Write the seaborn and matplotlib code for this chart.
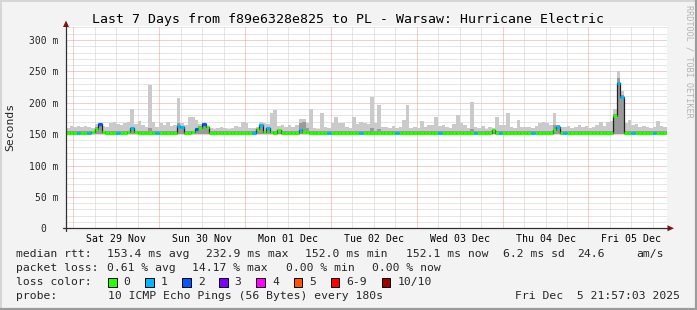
import numpy as np
import matplotlib
matplotlib.use("Agg")
import matplotlib.pyplot as plt
import seaborn as sns
from matplotlib.patches import Rectangle, Polygon
from matplotlib.lines import Line2D

# ---------------- data ----------------
title = "Last 7 Days from f89e6328e825 to PL - Warsaw: Hurricane Electric"
day_labels = ["Sat 29 Nov", "Sun 30 Nov", "Mon 01 Dec", "Tue 02 Dec",
              "Wed 03 Dec", "Thu 04 Dec", "Fri 05 Dec"]
first_midnight = 2.05          # hours after window start (Fri 28 Nov 21:57)
span_hours = 168
y_ticks = [0, 50, 100, 150, 200, 250, 300]
y_labels = ["0  ", "50 m", "100 m", "150 m", "200 m", "250 m", "300 m"]

# hourly median rtt (ms)
median = [
    152.5, 152.5, 152, 152.5, 152.5, 152, 152.5, 153, 158, 166, 153, 152.5,
    152, 152.5, 152.5, 152, 152.5, 153, 160, 153, 152.5, 152.5, 152, 152.5,
    152.5, 152.5, 152, 152.5, 152.5, 152, 152.5, 163, 161, 152.5, 152.5, 153,
    158, 160, 166, 161, 152.5, 152, 152.5, 152.5, 152, 152.5, 152.5, 152,
    152.5, 152.5, 152, 152.5, 152.5, 158, 164, 153, 159, 153, 152.5, 156,
    152.5, 152, 152.5, 152.5, 152, 156, 154, 153, 152.5, 152.5, 152, 152.5,
    152.5, 152, 152.5, 152.5, 152, 152.5, 152.5, 152, 152.5, 152.5, 152, 152.5,
    152.5, 152, 152.5, 152.5, 152, 152.5, 152.5, 152, 152.5, 152.5, 152, 152.5,
    152.5, 152, 152.5, 152.5, 152, 152.5, 152.5, 152, 152.5, 152.5, 152, 152.5,
    152.5, 152, 152.5, 152.5, 152, 152.5, 152.5, 152, 152.5, 152.5, 152, 156,
    152.5, 152, 152.5, 152.5, 152, 152.5, 152.5, 152, 152.5, 152.5, 152, 152.5,
    152.5, 152, 152.5, 152.5, 156, 161, 152.5, 152, 152.5, 152.5, 152, 152.5,
    152.5, 152, 152.5, 152.5, 152, 152.5, 152.5, 152, 152.5, 179, 232, 209,
    152.5, 152, 152.5, 152.5, 152, 152.5, 152.5, 152, 152.5, 152.5, 152, 152.1,
]
# lost pings (of 10) per hour
loss = [
    0, 0, 0, 1, 0, 0, 1, 0, 0, 2, 0, 0, 0, 0, 1, 0, 0, 0, 1, 0, 0, 0, 0, 0,
    0, 1, 0, 0, 0, 0, 0, 1, 1, 0, 0, 0, 2, 0, 2, 0, 0, 0, 0, 0, 0, 0, 0, 0,
    0, 0, 0, 0, 1, 0, 1, 0, 1, 0, 0, 0, 0, 0, 0, 0, 0, 1, 0, 0, 0, 0, 0, 0,
    0, 1, 0, 0, 0, 0, 0, 0, 0, 0, 1, 0, 0, 0, 0, 0, 0, 0, 0, 0, 1, 0, 0, 0,
    0, 0, 0, 0, 0, 0, 0, 0, 1, 0, 0, 0, 0, 0, 0, 0, 0, 0, 1, 0, 0, 0, 0, 0,
    0, 1, 0, 0, 0, 0, 0, 0, 0, 0, 1, 0, 0, 0, 0, 0, 0, 1, 0, 1, 0, 0, 0, 0,
    0, 0, 0, 0, 0, 0, 0, 0, 0, 0, 1, 1, 0, 0, 1, 0, 0, 0, 0, 0, 1, 0, 0, 0,
]
# highest ping per hour (ms) -> outer smoke
smoke_max = [
    160, 163, 161, 163, 161, 163, 162, 160, 166, 168, 163, 162,
    167, 169, 166, 164, 168, 170, 190, 166, 171, 165, 161, 228,
    170, 162, 167, 164, 170, 163, 165, 208, 167, 165, 177, 177,
    172, 166, 168, 163, 160, 158, 160, 162, 159, 158, 160, 163,
    161, 170, 168, 160, 159, 162, 170, 167, 166, 183, 188, 163,
    165, 162, 165, 161, 164, 174, 174, 168, 190, 160, 158, 183,
    162, 160, 167, 177, 168, 167, 162, 160, 178, 166, 170, 168,
    166, 209, 168, 196, 161, 162, 160, 163, 159, 161, 172, 196,
    160, 161, 159, 171, 162, 165, 164, 178, 163, 165, 162, 160,
    166, 180, 168, 165, 160, 201, 162, 160, 163, 158, 161, 160,
    178, 165, 164, 183, 162, 160, 173, 162, 161, 162, 160, 163,
    167, 170, 168, 164, 184, 165, 162, 161, 163, 160, 162, 164,
    161, 163, 160, 162, 164, 170, 163, 170, 171, 190, 250, 218,
    168, 172, 165, 166, 162, 163, 161, 160, 162, 171, 163, 161,
]
# inner (denser) smoke band top (ms)
smoke_mid = [
    155, 155, 155, 155, 155, 155, 155, 155, 162, 166, 155, 155,
    155, 155, 155, 155, 155, 155, 158, 155, 155, 155, 155, 160,
    155, 155, 155, 155, 155, 155, 155, 168, 162, 155, 155, 155,
    160, 163, 168, 160, 155, 155, 155, 155, 155, 155, 155, 155,
    155, 155, 155, 155, 155, 155, 164, 155, 160, 155, 155, 155,
    155, 155, 155, 155, 155, 168, 170, 160, 155, 155, 155, 155,
    155, 155, 155, 155, 155, 155, 155, 155, 155, 155, 155, 155,
    155, 160, 155, 158, 155, 155, 155, 155, 155, 155, 155, 155,
    155, 155, 155, 155, 155, 155, 155, 155, 155, 155, 155, 155,
    155, 155, 155, 155, 155, 158, 155, 155, 155, 155, 155, 157,
    155, 155, 155, 155, 155, 155, 155, 155, 155, 155, 155, 155,
    155, 155, 155, 155, 165, 164, 155, 155, 155, 155, 155, 155,
    155, 155, 155, 155, 155, 155, 155, 155, 155, 182, 240, 212,
    155, 155, 155, 155, 155, 155, 155, 155, 155, 155, 155, 155,
]
smoke_floor = 151

loss_labels = ["0", "1", "2", "3", "4", "5", "6-9", "10/10"]
loss_colors = ["#26ff00", "#00b8ff", "#0059ff", "#7e00ff",
               "#ff00ff", "#ff5500", "#ff0000", "#a10000"]

rtt_stats = ["153.4 ms avg", "232.9 ms max", "152.0 ms min",
             "152.1 ms now", "6.2 ms sd", "24.6", "am/s"]
loss_stats = ["0.61 % avg", "14.17 % max", "0.00 % min", "0.00 % now"]
probe_text = "10 ICMP Echo Pings (56 Bytes) every 180s"
stamp_text = "Fri Dec  5 21:57:03 2025"

# ---------------- layout / style ----------------
W, H, DPI = 697, 310, 100
MONO = ["DejaVu Sans Mono"]
BG = "#f3f3f3"

sns.set_style("white")
plt.rcParams["font.family"] = MONO
plt.rcParams["lines.scale_dashes"] = True


def fx(p):
    return p / W


def fy(p):
    return 1 - p / H


fig = plt.figure(figsize=(W / DPI, H / DPI), dpi=DPI, facecolor=BG)

PL, PR, PT, PB = 66, 667, 26, 228.3
ax = fig.add_axes([fx(PL), fy(PB), (PR - PL) / W, (PB - PT) / H])
ax.set_facecolor("white")
ax.set_xlim(0, span_hours)
ax.set_ylim(0, 322.3)
for s in ax.spines.values():
    s.set_visible(False)

# grid
dot = (0, (1, 1))
for v in range(10, 321, 10):
    major = v % 50 == 0
    ax.axhline(v, color="#ef9a9a" if major else "#cfcfcf", lw=0.72,
               ls=dot, zorder=0.5)
h = first_midnight
k = 0
while h < span_hours:
    major = k % 4 == 0
    ax.axvline(h, color="#ef9a9a" if major else "#cfcfcf", lw=0.72,
               ls=dot, zorder=0.5)
    h += 6
    k += 1

# smoke
hours = np.arange(len(median))
edges = np.append(hours, span_hours)
mx = np.append(smoke_max, smoke_max[-1])
md = np.append(smoke_mid, smoke_mid[-1])
ax.fill_between(edges, smoke_floor, mx, step="post", color="#cacaca",
                lw=0, zorder=1)
ax.fill_between(edges, smoke_floor, md, step="post", color="#9a9a9a",
                lw=0, zorder=1.2)

# median line (black step) + loss-coloured segments
med_ext = np.append(median, median[-1])
sns.lineplot(x=edges, y=med_ext, drawstyle="steps-post", color="#202020",
             lw=0.9, ax=ax, zorder=3, sort=False)
ax.hlines(median, hours, hours + 1, colors=[loss_colors[l] for l in loss],
          lw=2.3, zorder=4)

# ticks
ax.set_yticks(y_ticks)
ax.set_yticklabels(y_labels)
noons = [first_midnight + 12 + 24 * i for i in range(len(day_labels))]
ax.set_xticks(noons)
ax.set_xticklabels(day_labels)
ax.set_xticks([first_midnight + 24 * i for i in range(len(day_labels))],
              minor=True)
ax.tick_params(axis="x", which="major", length=0, pad=4.2, labelsize=7.1,
               colors="#000000")
ax.tick_params(axis="x", which="minor", length=2, width=0.7,
               direction="out", color="#ef9a9a")
ax.tick_params(axis="y", which="major", length=2, width=0.7,
               direction="out", pad=3.3, labelsize=7.0, color="#ef9a9a")
ax.set_ylabel("")

# axes with arrows
axis_col = "#303030"
arrow_col = "#8b1010"
fig.add_artist(Line2D([fx(63), fx(669)], [fy(PB), fy(PB)], color=axis_col,
                      lw=0.9))
fig.add_artist(Line2D([fx(PL), fx(PL)], [fy(231), fy(25)], color=axis_col,
                      lw=0.9))
fig.add_artist(Polygon([[fx(674), fy(PB)], [fx(667.5), fy(PB - 3)],
                        [fx(667.5), fy(PB + 3)]], closed=True,
                       color=arrow_col, lw=0))
fig.add_artist(Polygon([[fx(PL), fy(20.5)], [fx(PL - 3), fy(27)],
                        [fx(PL + 3), fy(27)]], closed=True,
                       color=arrow_col, lw=0))

# frame shading
fig.add_artist(Line2D([0, 1], [fy(0.5), fy(0.5)], color="#d6d6d6", lw=1.4))
fig.add_artist(Line2D([fx(0.5), fx(0.5)], [0, 1], color="#d6d6d6", lw=1.4))
fig.add_artist(Line2D([0, 1], [fy(309), fy(309)], color="#9c9c9c", lw=1.6))
fig.add_artist(Line2D([fx(696), fx(696)], [0, 1], color="#9c9c9c", lw=1.6))

# texts
fig.text(fx(348), fy(19), title, ha="center", va="center", fontsize=9.55,
         color="#000000")
fig.text(fx(10), fy(127), "Seconds", rotation=90, ha="center", va="center",
         fontsize=8.2)
fig.text(fx(688.5), fy(5), "RRDTOOL / TOBI OETIKER", rotation=270,
         ha="center", va="top", fontsize=6.1, color="#b4b4b4")

LF = 8.2
rows = [254, 268, 282, 296]
fig.text(fx(16), fy(rows[0]), "median rtt:", va="center", fontsize=LF)
for s, x in zip(rtt_stats, [107, 206, 305, 406, 503, 577, 636]):
    fig.text(fx(x), fy(rows[0]), s, va="center", fontsize=LF)
fig.text(fx(16), fy(rows[1]), "packet loss:", va="center", fontsize=LF)
for s, x in zip(loss_stats, [107, 192, 285.8, 371.6]):
    fig.text(fx(x), fy(rows[1]), s, va="center", fontsize=LF)
fig.text(fx(16), fy(rows[2]), "loss color:", va="center", fontsize=LF)
box_x = [108, 145.3, 182.2, 219, 256.4, 293.8, 330.7, 381.8]
for lab, col, bx in zip(loss_labels, loss_colors, box_x):
    fig.add_artist(Rectangle((fx(bx), fy(rows[2] + 4.5)), 8.5 / W, 8.5 / H,
                             transform=fig.transFigure, facecolor=col,
                             edgecolor="#000000", lw=0.7))
    fig.text(fx(bx + 15.5), fy(rows[2]), lab, va="center", fontsize=LF)
fig.text(fx(16), fy(rows[3]), "probe:", va="center", fontsize=LF)
fig.text(fx(108), fy(rows[3]), probe_text, va="center", fontsize=LF)
fig.text(fx(680), fy(rows[3]), stamp_text, va="center", ha="right",
         fontsize=LF)

fig.savefig("out.png", dpi=DPI, facecolor=BG)
